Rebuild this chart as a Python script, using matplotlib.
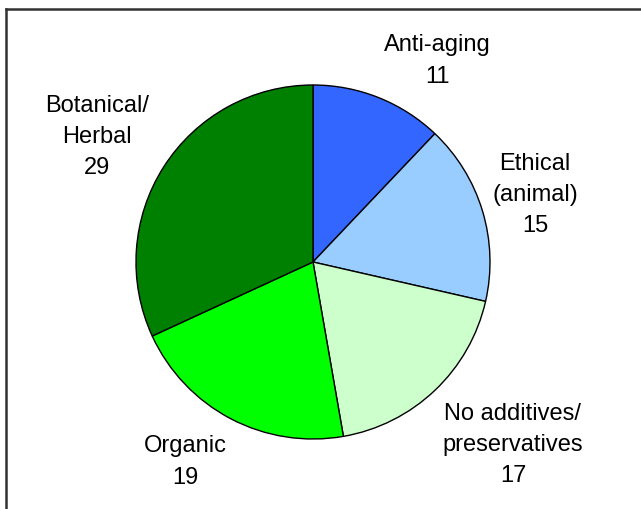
import matplotlib
matplotlib.use("Agg")
import matplotlib.pyplot as plt
import numpy as np

categories = ["Anti-aging", "Ethical\n(animal)", "No additives/\npreservatives", "Organic", "Botanical/\nHerbal"]
values = [11, 15, 17, 19, 29]
colors = ["#3366FF", "#99CCFF", "#CCFFCC", "#00FF00", "#008000"]

# label centres in pixel coordinates (layout only)
label_pos = [(437, 449), (535, 315), (513, 65), (185, 48), (97, 373)]

plt.rcParams['font.family'] = ['Liberation Sans', 'DejaVu Sans']

fig = plt.figure(figsize=(6.41, 5.10), dpi=100)
ax = fig.add_axes([0, 0, 1, 1])

ax.pie(values, colors=colors, startangle=90, counterclock=False,
       center=(313, 247), radius=177, frame=True,
       wedgeprops=dict(edgecolor='black', linewidth=1.0))
ax.set_xlim(0, 641)
ax.set_ylim(0, 510)
ax.set_aspect('equal')
ax.axis('off')

for cat, v, (x, y) in zip(categories, values, label_pos):
    ax.text(x, y, f"{cat}\n{v}", ha='center', va='center', fontsize=17,
            linespacing=1.55, color='black')

# outer frame
ax.plot([6, 6], [-5, 500], color='#333333', lw=1.8, clip_on=False)
ax.plot([6, 650], [500, 500], color='#333333', lw=1.8, clip_on=False)

fig.savefig("out.png", dpi=100)
